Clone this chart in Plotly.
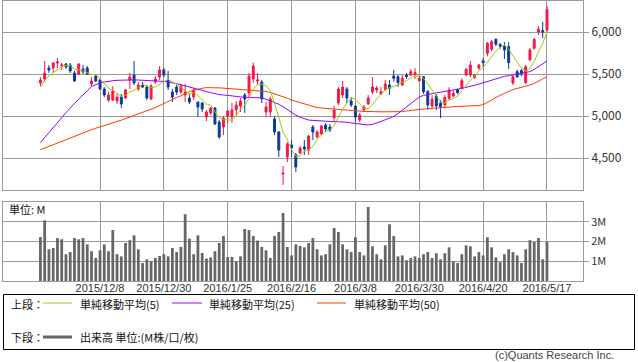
import plotly.graph_objects as go
import pandas as pd

# ---------------- data ----------------
holidays = ["2015-11-23", "2015-12-23", "2015-12-31", "2016-01-01", "2016-01-11",
            "2016-02-11", "2016-03-21", "2016-04-29", "2016-05-03", "2016-05-04", "2016-05-05"]
_days = [d for d in pd.bdate_range("2015-11-17", "2016-05-17") if d.strftime("%Y-%m-%d") not in holidays]
dates = [f"{d.year}/{d.month}/{d.day}" for d in _days]

tick_labels = ["2015/12/8", "2015/12/30", "2016/1/25", "2016/2/16",
               "2016/3/8", "2016/3/30", "2016/4/20", "2016/5/17"]

open_ = [5393, 5440, 5571, 5571, 5631, 5595, 5619, 5607, 5512, 5500,
         5560, 5571, 5381, 5476, 5429, 5321, 5190, 5190, 5179, 5226,
         5214, 5429, 5488, 5321, 5369, 5345, 5202, 5405, 5464, 5548,
         5429, 5286, 5345, 5286, 5250, 5214, 5226, 5167, 5155, 4988,
         5036, 5095, 4929, 4869, 5000, 4988, 5071, 5119, 5250, 5274,
         5440, 5417, 5405, 5048, 5048, 4964, 4810, 4310, 4512, 4655,
         4536, 4560, 4631, 4595, 4869, 4750, 4786, 4893, 4869, 4976,
         5155, 5250, 5321, 5179, 5119, 4952, 5071, 5143, 5286, 5310,
         5262, 5318, 5369, 5476, 5468, 5369, 5488, 5488, 5496, 5421,
         5468, 5290, 5119, 5238, 5155, 5131, 5210, 5238, 5310, 5330,
         5488, 5488, 5460, 5568, 5655, 5746, 5794, 5913, 5850, 5833,
         5825, 5393, 5528, 5540, 5397, 5667, 5806, 6000, 6016, 6024]
high = [5464, 5655, 5607, 5643, 5690, 5631, 5631, 5631, 5536, 5631,
        5607, 5595, 5464, 5488, 5440, 5345, 5286, 5357, 5262, 5262,
        5321, 5512, 5655, 5405, 5405, 5369, 5381, 5476, 5595, 5571,
        5536, 5321, 5369, 5381, 5381, 5262, 5333, 5167, 5167, 5071,
        5107, 5107, 4952, 5000, 5071, 5155, 5179, 5214, 5274, 5512,
        5635, 5512, 5429, 5167, 5226, 5000, 4821, 4405, 4690, 4714,
        4560, 4643, 4714, 4774, 4893, 4833, 4893, 4917, 4905, 5119,
        5345, 5417, 5345, 5226, 5131, 5036, 5131, 5250, 5464, 5357,
        5345, 5429, 5429, 5552, 5488, 5488, 5512, 5560, 5571, 5476,
        5476, 5310, 5250, 5262, 5190, 5250, 5345, 5300, 5330, 5449,
        5571, 5655, 5500, 5620, 5690, 5881, 5905, 5925, 5870, 5881,
        5881, 5488, 5550, 5560, 5607, 5810, 5929, 6071, 6123, 6310]
low = [5357, 5405, 5512, 5512, 5571, 5548, 5560, 5512, 5405, 5488,
       5500, 5488, 5357, 5405, 5310, 5226, 5167, 5179, 5143, 5095,
       5202, 5321, 5369, 5298, 5333, 5190, 5190, 5381, 5429, 5464,
       5310, 5167, 5250, 5262, 5167, 5143, 5190, 4988, 5048, 4940,
       5012, 4893, 4726, 4774, 4917, 4917, 5000, 5048, 5036, 5226,
       5393, 5369, 5155, 4988, 4988, 4774, 4512, 4179, 4452, 4512,
       4333, 4548, 4536, 4536, 4714, 4738, 4774, 4810, 4810, 4940,
       5131, 5214, 5155, 5107, 4929, 4929, 5048, 5131, 5262, 5274,
       5250, 5298, 5250, 5409, 5345, 5357, 5440, 5476, 5440, 5405,
       5262, 5071, 5083, 5071, 4976, 5095, 5190, 5220, 5260, 5321,
       5476, 5464, 5440, 5550, 5583, 5710, 5770, 5833, 5800, 5679,
       5560, 5369, 5452, 5476, 5381, 5655, 5790, 5964, 5929, 6004]
close = [5429, 5512, 5548, 5631, 5643, 5607, 5583, 5536, 5417, 5619,
         5524, 5500, 5417, 5417, 5321, 5250, 5250, 5298, 5226, 5143,
         5310, 5464, 5393, 5369, 5345, 5214, 5357, 5440, 5548, 5488,
         5345, 5226, 5286, 5357, 5286, 5167, 5310, 5107, 5083, 5048,
         5095, 4905, 4750, 4976, 5060, 5071, 5131, 5179, 5202, 5476,
         5595, 5429, 5202, 5107, 5202, 4810, 4595, 4321, 4667, 4619,
         4393, 4619, 4607, 4762, 4810, 4810, 4881, 4845, 4833, 5071,
         5321, 5345, 5214, 5131, 4988, 5012, 5107, 5214, 5345, 5333,
         5290, 5381, 5330, 5449, 5397, 5449, 5468, 5528, 5516, 5449,
         5290, 5131, 5200, 5119, 5107, 5222, 5310, 5270, 5278, 5421,
         5556, 5607, 5488, 5607, 5635, 5865, 5885, 5853, 5830, 5786,
         5635, 5468, 5468, 5500, 5587, 5786, 5913, 6032, 6000, 6270]

ma5 = [5342, 5420, 5480, 5516, 5553, 5588, 5602, 5600, 5557, 5552,
       5536, 5519, 5495, 5495, 5436, 5381, 5331, 5307, 5269, 5233,
       5245, 5288, 5307, 5336, 5376, 5357, 5336, 5345, 5381, 5409,
       5436, 5409, 5379, 5340, 5300, 5264, 5281, 5245, 5191, 5143,
       5129, 5048, 4976, 4955, 4957, 4952, 4998, 5083, 5129, 5212,
       5317, 5376, 5381, 5362, 5307, 5150, 4983, 4807, 4719, 4602,
       4519, 4524, 4581, 4600, 4638, 4722, 4774, 4822, 4836, 4888,
       4990, 5083, 5157, 5216, 5200, 5138, 5090, 5090, 5133, 5202,
       5258, 5313, 5336, 5357, 5369, 5401, 5419, 5458, 5472, 5482,
       5450, 5383, 5317, 5238, 5169, 5156, 5192, 5206, 5237, 5300,
       5367, 5426, 5470, 5536, 5579, 5640, 5696, 5769, 5814, 5844,
       5798, 5714, 5637, 5571, 5532, 5562, 5651, 5764, 5864, 6000]
ma25 = [4683, 4740, 4800, 4860, 4920, 4980, 5040, 5100, 5150, 5200,
        5245, 5300, 5350, 5375, 5395, 5405, 5415, 5420, 5425, 5428,
        5430, 5430, 5430, 5428, 5426, 5424, 5422, 5420, 5418, 5412,
        5405, 5397, 5385, 5372, 5360, 5345, 5330, 5318, 5305, 5292,
        5278, 5265, 5255, 5250, 5248, 5240, 5232, 5225, 5222, 5222,
        5222, 5222, 5215, 5200, 5180, 5160, 5140, 5110, 5075, 5040,
        5010, 4985, 4965, 4952, 4948, 4944, 4940, 4935, 4932, 4932,
        4932, 4932, 4925, 4918, 4910, 4905, 4898, 4893, 4900, 4915,
        4935, 4955, 4975, 4995, 5030, 5070, 5110, 5150, 5190, 5225,
        5245, 5258, 5268, 5276, 5283, 5290, 5298, 5308, 5318, 5330,
        5340, 5352, 5365, 5380, 5395, 5410, 5428, 5445, 5460, 5472,
        5480, 5488, 5495, 5505, 5515, 5528, 5555, 5590, 5630, 5655]
ma50 = [4598, 4617, 4636, 4655, 4675, 4695, 4715, 4735, 4755, 4775,
        4797, 4818, 4840, 4855, 4870, 4888, 4905, 4920, 4935, 4950,
        4968, 4987, 5005, 5023, 5042, 5060, 5080, 5100, 5125, 5150,
        5175, 5200, 5220, 5240, 5265, 5290, 5305, 5320, 5330, 5338,
        5340, 5338, 5335, 5332, 5328, 5325, 5320, 5316, 5312, 5308,
        5305, 5302, 5297, 5292, 5280, 5265, 5250, 5235, 5212, 5190,
        5175, 5160, 5142, 5125, 5112, 5100, 5095, 5090, 5086, 5082,
        5078, 5073, 5068, 5065, 5061, 5058, 5055, 5052, 5051, 5050,
        5050, 5050, 5050, 5051, 5051, 5052, 5060, 5068, 5073, 5078,
        5083, 5088, 5092, 5096, 5100, 5105, 5108, 5110, 5113, 5115,
        5118, 5120, 5122, 5125, 5135, 5160, 5190, 5220, 5250, 5270,
        5292, 5315, 5328, 5340, 5354, 5368, 5388, 5410, 5440, 5470]

volume_m = [2.23, 3.08, 1.61, 1.68, 2.18, 2.12, 1.36, 1.47, 2.18, 2.12,
            2.18, 1.86, 1.51, 1.17, 1.56, 1.86, 1.51, 2.59, 1.36, 1.25,
            1.93, 2.07, 2.32, 1.61, 0.91, 1.10, 1.02, 1.17, 1.27, 1.36,
            1.25, 1.68, 1.47, 1.73, 3.39, 2.15, 1.36, 2.32, 1.42, 1.14,
            1.20, 1.51, 1.93, 2.28, 1.22, 1.22, 1.00, 1.25, 2.64, 2.59,
            2.28, 2.05, 1.73, 1.56, 1.17, 2.28, 2.49, 3.45, 1.73, 1.30,
            1.86, 1.78, 1.71, 1.93, 2.18, 1.61, 1.30, 1.36, 1.86, 2.69,
            2.49, 1.86, 1.61, 1.47, 2.22, 1.47, 1.30, 3.76, 1.76, 1.36,
            1.10, 1.81, 2.88, 2.28, 1.25, 1.30, 1.05, 1.17, 1.25, 1.17,
            1.36, 1.47, 1.17, 1.41, 1.10, 1.41, 1.71, 1.00, 0.91, 1.36,
            1.81, 1.76, 1.25, 1.47, 1.30, 2.22, 1.71, 1.20, 0.96, 1.36,
            1.61, 1.47, 1.30, 0.91, 1.61, 2.07, 1.98, 2.18, 1.10, 1.98]

price_ticks = [4500, 5000, 5500, 6000]
volume_ticks = [1, 2, 3]
volume_tick_text = ["1M", "2M", "3M"]

# ---------------- style ----------------
W, H = 638, 362
ML, MR = 3, 55
RED = "#f5174a"
BLUE = "#0a3a9c"
C_MA5 = "#9acd00"
C_MA25 = "#9a00ff"
C_MA50 = "#ff3a00"
C_VOL = "#666666"
GRID = "#9a9a9a"
JP = "Noto Sans CJK JP"
LAT = "Liberation Sans, Arial, sans-serif"
TXT = "#333333"


def px(x):
    return (x - ML) / (W - ML - MR)


def py(y):
    return (H - y) / H


fig = go.Figure()
fig.add_trace(go.Scatter(x=dates, y=ma50, mode="lines", line=dict(color=C_MA50, width=1),
                         showlegend=False, hoverinfo="skip"))
fig.add_trace(go.Scatter(x=dates, y=ma25, mode="lines", line=dict(color=C_MA25, width=1),
                         showlegend=False, hoverinfo="skip"))
fig.add_trace(go.Candlestick(
    x=dates, open=open_, high=high, low=low, close=close,
    increasing=dict(line=dict(color=RED, width=1), fillcolor=RED),
    decreasing=dict(line=dict(color=BLUE, width=1), fillcolor=BLUE),
    whiskerwidth=0, showlegend=False, hoverinfo="skip"))
fig.add_trace(go.Scatter(x=dates, y=ma5, mode="lines", line=dict(color=C_MA5, width=1),
                         showlegend=False, hoverinfo="skip"))
fig.add_trace(go.Bar(x=dates, y=volume_m, marker=dict(color=C_VOL, line=dict(width=0)),
                     xaxis="x2", yaxis="y2", showlegend=False, hoverinfo="skip"))

xrange_ = [-8.79, 127.46]
common_x = dict(type="category", range=xrange_, tickvals=tick_labels, showgrid=True,
                gridcolor=GRID, gridwidth=1, showline=True, mirror=True, linecolor=GRID,
                linewidth=1, ticks="", zeroline=False, fixedrange=True)

fig.update_layout(
    width=W, height=H,
    margin=dict(l=ML, r=MR, t=0, b=0, autoexpand=False),
    paper_bgcolor="white", plot_bgcolor="white",
    bargap=0.35, boxgap=0.35,
    xaxis=dict(domain=[0, 1], anchor="y", showticklabels=False,
               rangeslider=dict(visible=False), **common_x),
    yaxis=dict(domain=[py(190), py(1)], anchor="x", range=[4119, 6369], side="right",
               tickvals=price_ticks, tickformat=",", ticks="outside", ticklen=5, tickcolor=GRID,
               showgrid=True, gridcolor=GRID, showline=True, mirror=True, linecolor=GRID,
               zeroline=False, fixedrange=True, tickfont=dict(family=JP, size=12, color=TXT)),
    xaxis2=dict(domain=[0, 1], anchor="y2", matches="x", showticklabels=True,
                ticktext=tick_labels, ticklabelstandoff=-3,
                tickfont=dict(family=LAT, size=11, color=TXT), **common_x),
    yaxis2=dict(domain=[py(281), py(202)], anchor="x2", range=[0, 4.01], side="right",
                tickvals=volume_ticks, ticktext=volume_tick_text, ticks="outside", ticklen=5,
                tickcolor=GRID, showgrid=True, gridcolor=GRID, showline=True, mirror=True,
                linecolor=GRID, zeroline=False, fixedrange=True,
                tickfont=dict(family=JP, size=11, color=TXT)),
)

shapes = [
    dict(type="rect", xref="paper", yref="paper", x0=px(3.5), x1=px(634.5), y0=py(349.5), y1=py(294.5),
         line=dict(color="#000000", width=1), fillcolor="rgba(0,0,0,0)"),
    dict(type="line", xref="paper", yref="paper", x0=px(43), x1=px(72), y0=py(303), y1=py(303),
         line=dict(color=C_MA5, width=1)),
    dict(type="line", xref="paper", yref="paper", x0=px(172), x1=px(202), y0=py(303), y1=py(303),
         line=dict(color=C_MA25, width=1)),
    dict(type="line", xref="paper", yref="paper", x0=px(317), x1=px(346), y0=py(303), y1=py(303),
         line=dict(color=C_MA50, width=1)),
    dict(type="line", xref="paper", yref="paper", x0=px(43), x1=px(72), y0=py(337), y1=py(337),
         line=dict(color=C_VOL, width=3)),
]
fig.update_layout(shapes=shapes)


def ann(text, x, y, anchor="left", size=11, color="#111111", family=JP):
    fig.add_annotation(text=text, xref="paper", yref="paper", x=px(x), y=py(y), xanchor=anchor,
                       yanchor="middle", showarrow=False, font=dict(family=family, size=size, color=color))


ann("単位: M", 7, 209)
ann("上段：", 9, 304)
ann("単純移動平均(5)", 78, 304)
ann("単純移動平均(25)", 207, 304)
ann("単純移動平均(50)", 352, 304)
ann("下段：", 9, 337)
ann("出来高 単位:(M株/口/枚)", 78, 337)
ann("(c)Quants Research Inc.", 616, 355, anchor="right", color="#444444", family=LAT)

fig.write_html("out.html", config={"displayModeBar": False, "staticPlot": True},
               post_script="document.body.style.margin='0px';")
